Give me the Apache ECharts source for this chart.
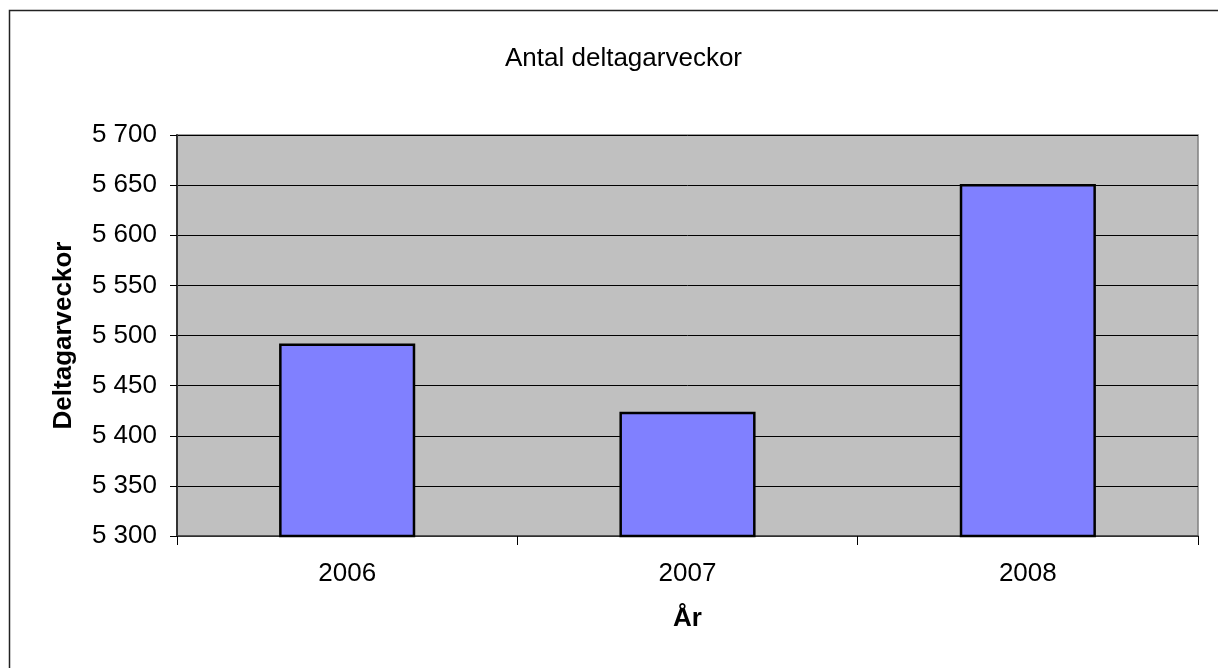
<!DOCTYPE html>
<html>
<head>
<meta charset="utf-8">
<script src="https://cdn.jsdelivr.net/npm/echarts@6/dist/echarts.min.js"></script>
<style>
  html, body { margin: 0; padding: 0; background: #fff; }
  #chart { width: 1218px; height: 668px; }
</style>
</head>
<body>
<div id="chart"></div>
<script>
const years = ['2006', '2007', '2008'];
const weeks = [5492, 5424, 5651];
const yMin = 5300;
const yMax = 5700;
const yStep = 50;

const font = 'Liberation Sans, Arial, sans-serif';

// "5 700" style thousands separator
const fmt = (v) => String(v).replace(/\B(?=(\d{3})+(?!\d))/g, ' ');

const chart = echarts.init(document.getElementById('chart'));
chart.setOption({
  animation: false,
  backgroundColor: '#fff',
  title: {
    text: 'Antal deltagarveckor',
    left: 500,
    top: 41,
    textStyle: { fontFamily: font, fontSize: 26, fontWeight: 'normal', color: '#000' },
  },
  graphic: [
    {
      type: 'rect',
      shape: { x: 9.5, y: 10.5, width: 1400, height: 800 },
      style: { fill: 'none', stroke: '#222', lineWidth: 1.5 },
      silent: true,
    },
  ],
  grid: {
    left: 177,
    top: 135,
    right: 20,
    bottom: 132,
    show: true,
    backgroundColor: '#C0C0C0',
    borderColor: '#808080',
    borderWidth: 1.5,
  },
  xAxis: {
    type: 'category',
    data: years,
    name: 'År',
    nameLocation: 'middle',
    nameGap: 70,
    nameTextStyle: { fontFamily: font, fontSize: 26, fontWeight: 'bold', color: '#000' },
    axisLine: { lineStyle: { color: '#404040', width: 1.5 } },
    axisTick: { show: true, length: 9, lineStyle: { color: '#000' } },
    axisLabel: { fontFamily: font, fontSize: 26, color: '#000', margin: 25 },
    splitLine: { show: false },
  },
  yAxis: {
    type: 'value',
    min: yMin,
    max: yMax,
    interval: yStep,
    name: 'Deltagarveckor',
    nameLocation: 'middle',
    nameGap: 100,
    nameTextStyle: { fontFamily: font, fontSize: 26, fontWeight: 'bold', color: '#000' },
    axisLine: { show: true, lineStyle: { color: '#333', width: 2 } },
    axisTick: { show: true, length: 7, lineStyle: { color: '#000' } },
    axisLabel: { fontFamily: font, fontSize: 26, color: '#000', margin: 20, formatter: fmt },
    splitLine: { show: true, lineStyle: { color: '#000', width: 1 } },
  },
  series: [
    {
      type: 'bar',
      data: weeks,
      barWidth: '40%',
      itemStyle: { color: '#8080FF', borderColor: '#000', borderWidth: 2.5 },
    },
  ],
});
</script>
</body>
</html>
